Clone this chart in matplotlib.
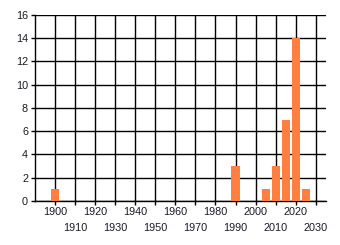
import matplotlib
matplotlib.use('Agg')
import matplotlib.pyplot as plt
import numpy as np

# data
years = [1900, 1990, 2005, 2010, 2015, 2020, 2025]
counts = [1, 3, 1, 3, 7, 14, 1]
major_ticks = [1900, 1920, 1940, 1960, 1980, 2000, 2020]
minor_ticks = [1910, 1930, 1950, 1970, 1990, 2010, 2030]
y_ticks = [0, 2, 4, 6, 8, 10, 12, 14, 16]


def main():
    plt.rcParams['font.family'] = ['Liberation Sans', 'DejaVu Sans']
    fig = plt.figure(figsize=(3.4, 2.45), dpi=100)
    ax = fig.add_axes([0.103, 0.18, 0.855, 0.759])

    ax.bar(years, counts, width=4, color='#FF7F40', zorder=3)

    ax.set_xlim(1890, 2035)
    ax.set_ylim(0, 16)
    ax.set_yticks(y_ticks)
    ax.set_xticks(major_ticks)
    ax.set_xticks(minor_ticks, minor=True)
    ax.set_xticklabels([str(t) for t in major_ticks])
    ax.set_xticklabels([str(t) for t in minor_ticks], minor=True)

    ax.tick_params(axis='both', which='both', length=3, width=1, color='black',
                   labelsize=7.8, labelcolor='#1a1a2a')
    ax.tick_params(axis='x', which='major', pad=1.5)
    ax.tick_params(axis='x', which='minor', pad=13)
    ax.tick_params(axis='y', pad=2)

    ax.grid(True, which='both', color='black', linewidth=1, zorder=1)
    ax.set_axisbelow(True)
    for side in ['top', 'right']:
        ax.spines[side].set_visible(False)
    for side in ['left', 'bottom']:
        ax.spines[side].set_linewidth(1)
        ax.spines[side].set_color('black')

    fig.savefig('out.png', dpi=100)
    plt.close(fig)


if __name__ == '__main__':
    main()
